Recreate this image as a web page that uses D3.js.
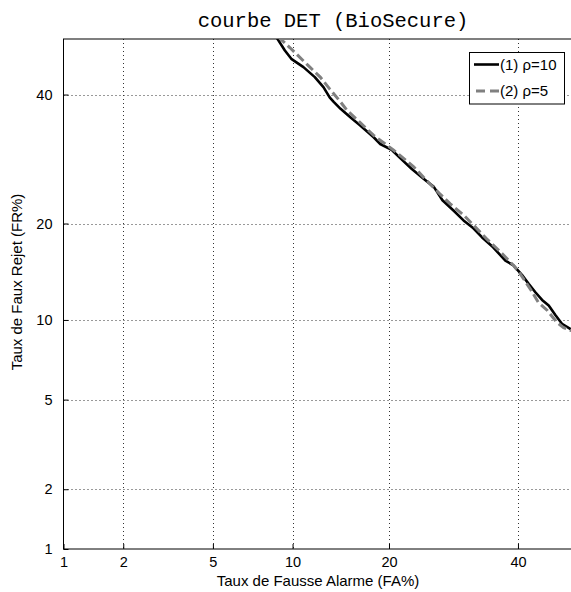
<!DOCTYPE html>
<html>
<head>
<meta charset="utf-8">
<script src="https://cdn.jsdelivr.net/npm/d3@7"></script>
<style>
  body { margin: 0; background: #fff; }
  svg { display: block; }
</style>
</head>
<body>
<div id="chart"></div>
<script>
// DET curve values (percent)
const faRho10 = [8.7, 9.4, 9.9, 10.9, 11.9, 12.7, 13.3, 13.7, 14.4, 15.4, 16.5, 18.1, 18.9, 20.4, 21.5, 23.0, 24.7, 26.2, 27.5, 29.2, 30.8, 32.4, 33.8, 35.7, 37.8, 39.2, 40.7, 41.9, 43.1, 44.3, 45.5, 46.7, 47.9, 49.4, 50.2];
const frRho10 = [50.6, 47.9, 46.4, 44.9, 43.1, 41.3, 39.5, 38.7, 37.5, 36.1, 34.7, 32.7, 31.6, 30.6, 29.3, 27.7, 26.2, 25.0, 23.1, 21.7, 20.4, 19.4, 18.3, 17.1, 15.6, 15.1, 14.1, 13.2, 12.4, 11.7, 11.2, 10.4, 9.7, 9.3, 9.2];
const faRho5 = [8.9, 9.8, 10.3, 11.3, 12.4, 13.3, 14.4, 15.1, 16.5, 18.1, 20.6, 23.3, 24.7, 27.1, 28.7, 30.8, 32.4, 34.6, 36.9, 39.2, 40.4, 42.2, 43.6, 45.2, 47.0, 48.2, 49.4, 50.2];
const frRho5 = [50.4, 48.4, 47.3, 45.2, 43.1, 41.0, 38.7, 37.2, 35.2, 33.0, 30.6, 28.0, 26.4, 24.0, 22.6, 21.1, 19.8, 18.1, 16.6, 15.1, 14.2, 12.7, 11.5, 10.8, 9.8, 9.4, 9.2, 9.1];
const tickFA = [1, 2, 5, 10, 20, 40];
const tickFR = [1, 2, 5, 10, 20, 40];
const seriesNames = ["(1) \u03c1=10", "(2) \u03c1=5"];

// inverse normal CDF (Acklam)
function probit(p) {
  const a = [-3.969683028665376e+01, 2.209460984245205e+02, -2.759285104469687e+02, 1.383577518672690e+02, -3.066479806614716e+01, 2.506628277459239e+00];
  const b = [-5.447609879822406e+01, 1.615858368580409e+02, -1.556989798598866e+02, 6.680131188771972e+01, -1.328068155288572e+01];
  const c = [-7.784894002430293e-03, -3.223964580411365e-01, -2.400758277161838e+00, -2.549732539343734e+00, 4.374589254781210e+00, 2.938163982698783e+00];
  const d = [7.784695709041462e-03, 3.224671290700398e-01, 2.445134137142996e+00, 3.754408661907416e+00];
  const plow = 0.02425;
  if (p < plow) {
    const q = Math.sqrt(-2 * Math.log(p));
    return (((((c[0]*q + c[1])*q + c[2])*q + c[3])*q + c[4])*q + c[5]) / ((((d[0]*q + d[1])*q + d[2])*q + d[3])*q + 1);
  }
  if (p > 1 - plow) return -probit(1 - p);
  const q = p - 0.5, r = q * q;
  return (((((a[0]*r + a[1])*r + a[2])*r + a[3])*r + a[4])*r + a[5])*q / (((((b[0]*r + b[1])*r + b[2])*r + b[3])*r + b[4])*r + 1);
}

const width = 571, height = 592;
const pLeft = 63.5, pRight = 573.5, pTop = 39, pBottom = 549;
const font = "'Liberation Sans', Arial, Helvetica, sans-serif";

const svg = d3.select("#chart").append("svg").attr("width", width).attr("height", height);

const x = d3.scaleLinear().domain([probit(0.01), probit(0.5)]).range([pLeft, pRight]);
const y = d3.scaleLinear().domain([probit(0.01), probit(0.5)]).range([pBottom, pTop]);

// grid
const grid = svg.append("g").attr("stroke", "#333").attr("stroke-width", 1).attr("stroke-dasharray", "1,3");
grid.selectAll(".gx").data(tickFA.slice(1)).enter().append("line")
  .attr("x1", d => Math.round(x(probit(d / 100))) + 0.5).attr("x2", d => Math.round(x(probit(d / 100))) + 0.5)
  .attr("y1", pTop).attr("y2", pBottom);
grid.selectAll(".gy").data(tickFR.slice(1)).enter().append("line")
  .attr("y1", d => Math.round(y(probit(d / 100))) + 0.5).attr("y2", d => Math.round(y(probit(d / 100))) + 0.5)
  .attr("x1", pLeft).attr("x2", pRight);

// axes
const xAxis = d3.axisBottom(x).tickValues(tickFA.map(t => probit(t / 100)))
  .tickFormat((d, i) => tickFA[i]).tickSizeInner(-5).tickSizeOuter(0).tickPadding(7.5);
const yAxis = d3.axisLeft(y).tickValues(tickFR.map(t => probit(t / 100)))
  .tickFormat((d, i) => tickFR[i]).tickSizeInner(-5).tickSizeOuter(0).tickPadding(11);

const gx = svg.append("g").attr("transform", `translate(0,${pBottom})`).call(xAxis);
const gy = svg.append("g").attr("transform", `translate(${pLeft},0)`).call(yAxis);
[gx, gy].forEach(g => {
  g.select(".domain").remove();
  g.selectAll("text").attr("font-family", font).attr("font-size", 14.5).attr("fill", "#000");
  g.selectAll("line").attr("stroke", "#000");
});

// frame
svg.append("rect").attr("x", pLeft).attr("y", pTop).attr("width", pRight - pLeft).attr("height", pBottom - pTop)
  .attr("fill", "none").attr("stroke", "#000").attr("stroke-width", 1);

// curves
svg.append("clipPath").attr("id", "plot").append("rect")
  .attr("x", pLeft).attr("y", pTop).attr("width", pRight - pLeft).attr("height", pBottom - pTop);

const line = d3.line().x(d => x(probit(d[0] / 100))).y(d => y(probit(d[1] / 100)));
const curves = svg.append("g").attr("clip-path", "url(#plot)");
curves.append("path").datum(d3.zip(faRho10, frRho10))
  .attr("fill", "none").attr("stroke", "#000").attr("stroke-width", 2.6).attr("stroke-linejoin", "round").attr("d", line);
curves.append("path").datum(d3.zip(faRho5, frRho5))
  .attr("fill", "none").attr("stroke", "#808080").attr("stroke-width", 3).attr("stroke-dasharray", "9,4").attr("d", line);

// legend
const lg = svg.append("g");
lg.append("rect").attr("x", 469.5).attr("y", 52.5).attr("width", 95).attr("height", 51.5)
  .attr("fill", "#fff").attr("stroke", "#000").attr("stroke-width", 1);
lg.append("line").attr("x1", 474).attr("x2", 499).attr("y1", 64.5).attr("y2", 64.5)
  .attr("stroke", "#000").attr("stroke-width", 2.6);
lg.append("line").attr("x1", 476).attr("x2", 499).attr("y1", 91).attr("y2", 91)
  .attr("stroke", "#808080").attr("stroke-width", 3).attr("stroke-dasharray", "9,5");
lg.selectAll("text").data(seriesNames).enter().append("text")
  .attr("x", 500).attr("y", (d, i) => 70 + i * 26)
  .attr("font-family", font).attr("font-size", 15).attr("fill", "#000").text(d => d);

// titles
svg.append("text").attr("x", 333).attr("y", 27).attr("text-anchor", "middle")
  .attr("font-family", "'Courier New', 'Liberation Mono', monospace").attr("font-size", 20.5)
  .text("courbe DET (BioSecure)");
svg.append("text").attr("x", 318).attr("y", 586).attr("text-anchor", "middle")
  .attr("font-family", font).attr("font-size", 15).text("Taux de Fausse Alarme (FA%)");
svg.append("text").attr("transform", "translate(22,282) rotate(-90)").attr("text-anchor", "middle")
  .attr("font-family", font).attr("font-size", 15).text("Taux de Faux Rejet (FR%)");
</script>
</body>
</html>
